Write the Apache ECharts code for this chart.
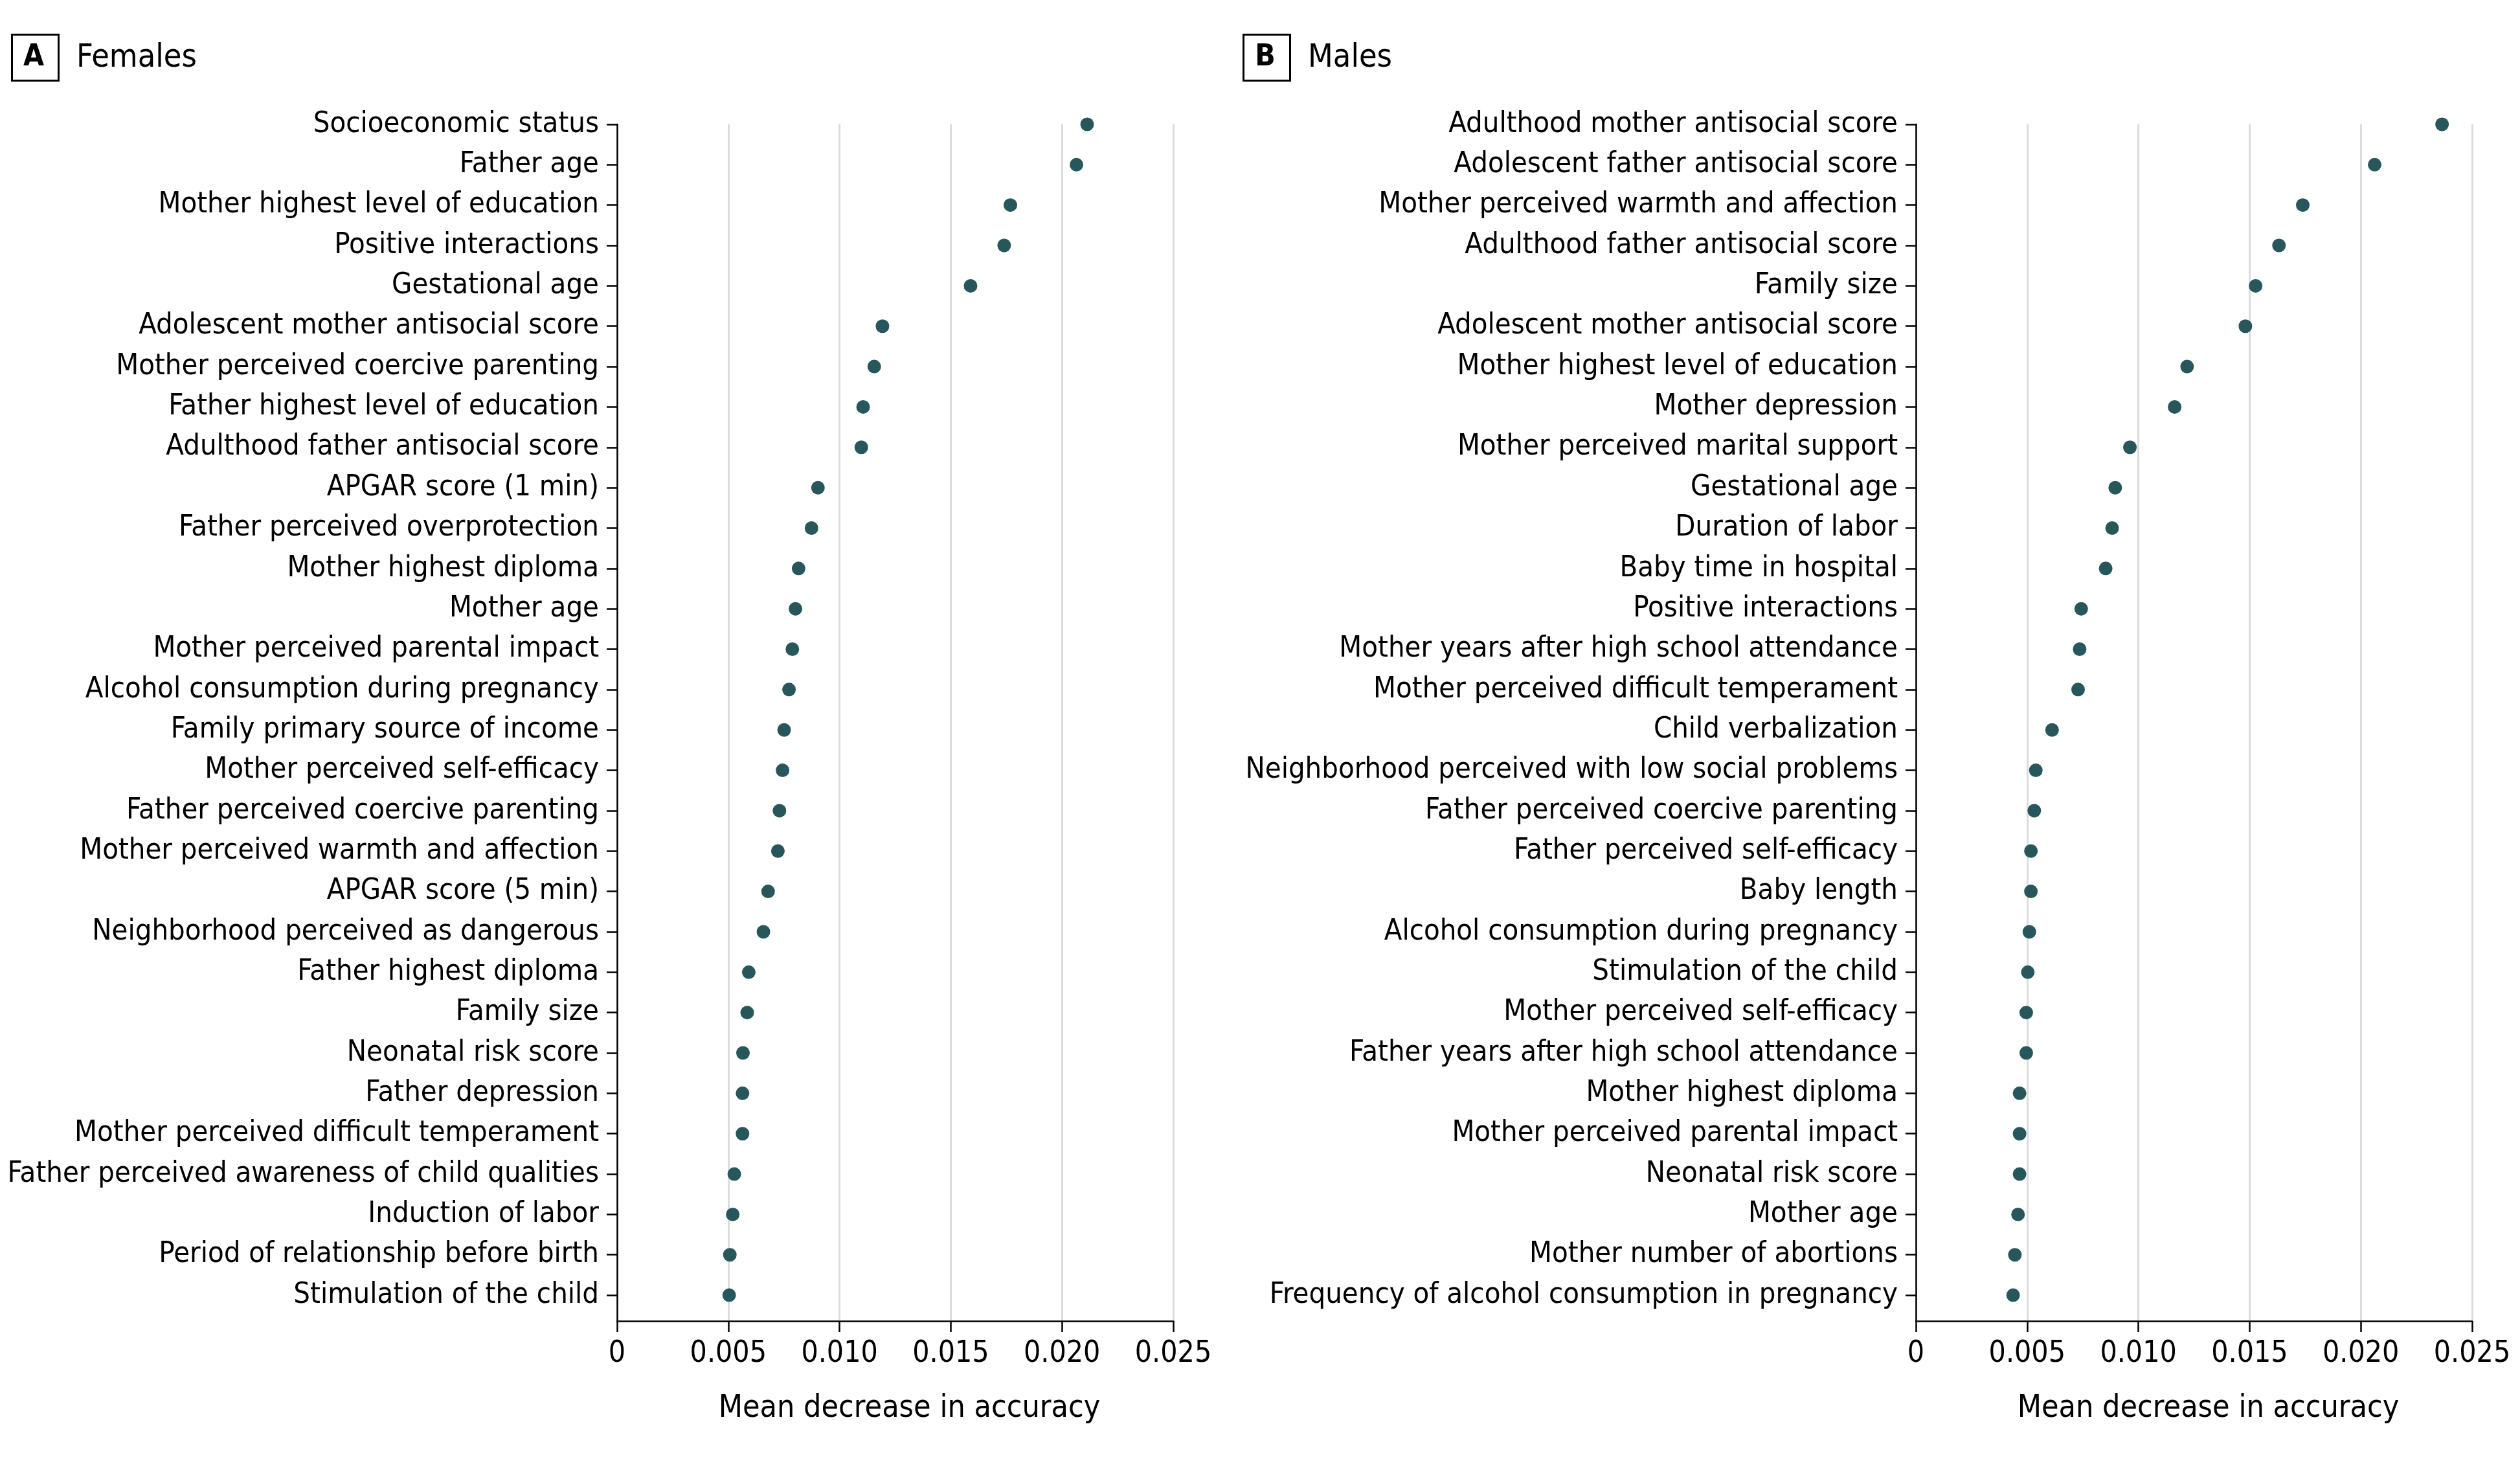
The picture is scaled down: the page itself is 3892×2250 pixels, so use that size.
<!DOCTYPE html>
<html>
<head>
<meta charset="utf-8">
<title>Mean decrease in accuracy</title>
<script src="https://cdn.jsdelivr.net/npm/echarts@6/dist/echarts.min.js"></script>
<style>
  html, body { margin: 0; padding: 0; background: #fff; }
  #main { width: 3892px; height: 2250px; }
</style>
</head>
<body>
<div id="main"></div>
<script>
// females, top to bottom
var femaleNames = [
  'Socioeconomic status', 'Father age', 'Mother highest level of education',
  'Positive interactions', 'Gestational age', 'Adolescent mother antisocial score',
  'Mother perceived coercive parenting', 'Father highest level of education',
  'Adulthood father antisocial score', 'APGAR score (1 min)', 'Father perceived overprotection',
  'Mother highest diploma', 'Mother age', 'Mother perceived parental impact',
  'Alcohol consumption during pregnancy', 'Family primary source of income',
  'Mother perceived self-efficacy', 'Father perceived coercive parenting',
  'Mother perceived warmth and affection', 'APGAR score (5 min)',
  'Neighborhood perceived as dangerous', 'Father highest diploma', 'Family size',
  'Neonatal risk score', 'Father depression', 'Mother perceived difficult temperament',
  'Father perceived awareness of child qualities', 'Induction of labor',
  'Period of relationship before birth', 'Stimulation of the child'
];
var femaleValues = [
  0.02113, 0.02065, 0.01768, 0.01740, 0.01589, 0.01193, 0.01156, 0.01106,
  0.01098, 0.00903, 0.00874, 0.00816, 0.00802, 0.00788, 0.00773, 0.00751,
  0.00744, 0.00730, 0.00723, 0.00679, 0.00658, 0.00592, 0.00585, 0.00566,
  0.00564, 0.00564, 0.00527, 0.00520, 0.00507, 0.00504
];

// males, top to bottom
var maleNames = [
  'Adulthood mother antisocial score', 'Adolescent father antisocial score',
  'Mother perceived warmth and affection', 'Adulthood father antisocial score',
  'Family size', 'Adolescent mother antisocial score', 'Mother highest level of education',
  'Mother depression', 'Mother perceived marital support', 'Gestational age',
  'Duration of labor', 'Baby time in hospital', 'Positive interactions',
  'Mother years after high school attendance', 'Mother perceived difficult temperament',
  'Child verbalization', 'Neighborhood perceived with low social problems',
  'Father perceived coercive parenting', 'Father perceived self-efficacy', 'Baby length',
  'Alcohol consumption during pregnancy', 'Stimulation of the child',
  'Mother perceived self-efficacy', 'Father years after high school attendance',
  'Mother highest diploma', 'Mother perceived parental impact', 'Neonatal risk score',
  'Mother age', 'Mother number of abortions', 'Frequency of alcohol consumption in pregnancy'
];
var maleValues = [
  0.02365, 0.02062, 0.01739, 0.01632, 0.01527, 0.01481, 0.01219, 0.01163,
  0.00962, 0.00896, 0.00882, 0.00853, 0.00743, 0.00736, 0.00729, 0.00612,
  0.00539, 0.00532, 0.00517, 0.00517, 0.00510, 0.00503, 0.00496, 0.00496,
  0.00466, 0.00466, 0.00466, 0.00459, 0.00445, 0.00437
];

var xTicks = [0, 0.005, 0.010, 0.015, 0.020, 0.025];
var xTitle = 'Mean decrease in accuracy';
var panels = [['A', 'Females'], ['B', 'Males']];

var FONT = "'DejaVu Sans Condensed', 'Liberation Sans Narrow', sans-serif";
var DOT = '#27575a';

var chart = echarts.init(document.getElementById('main'));

function rowIdx(n) {
  var a = [];
  for (var i = 0; i < n; i++) a.push(i);
  return a;
}

function yAxisFor(idx, names) {
  return {
    type: 'value',
    gridIndex: idx,
    inverse: true,
    min: 0,
    max: 29.64,
    interval: 1,
    splitLine: { show: false },
    axisLine: { show: true, onZero: false, lineStyle: { color: '#000', width: 2.5 } },
    axisTick: { show: true, length: 16, lineStyle: { color: '#000', width: 2.5 }, customValues: rowIdx(names.length) },
    axisLabel: {
      margin: 28,
      color: '#000',
      fontFamily: FONT,
      fontSize: 45,
      customValues: rowIdx(names.length),
      formatter: function (v) { return names[Math.round(v)] || ''; }
    }
  };
}

function xAxisFor(idx) {
  return {
    type: 'value',
    gridIndex: idx,
    min: xTicks[0],
    max: xTicks[xTicks.length - 1],
    interval: 0.005,
    name: xTitle,
    nameLocation: 'middle',
    nameGap: 112,
    nameTextStyle: { color: '#000', fontFamily: FONT, fontSize: 48, padding: [0, 0, 0, 44] },
    axisLine: { show: true, onZero: false, lineStyle: { color: '#000', width: 2.5 } },
    axisTick: { show: true, length: 17, lineStyle: { color: '#000', width: 2.5 } },
    splitLine: { show: true, lineStyle: { color: '#dcdcdc', width: 3 } },
    axisLabel: {
      margin: 28,
      color: '#000',
      fontFamily: FONT,
      fontSize: 46,
      formatter: function (v) { return v === 0 ? '0' : v.toFixed(3); }
    }
  };
}

function seriesFor(idx, values) {
  return {
    type: 'scatter',
    xAxisIndex: idx,
    yAxisIndex: idx,
    symbol: 'circle',
    symbolSize: 21,
    itemStyle: { color: DOT, opacity: 1 },
    data: values.map(function (v, i) { return [v, i]; })
  };
}

function header(x, letter, label) {
  return [
    { type: 'rect', left: x, top: 51, shape: { width: 72, height: 71 },
      style: { fill: 'none', stroke: '#000', lineWidth: 3 } },
    { type: 'text', x: x + 36, y: 89,
      style: { text: letter, font: 'bold 46px ' + FONT, fill: '#000', align: 'center', verticalAlign: 'middle' } },
    { type: 'text', x: x + 102, y: 90,
      style: { text: label, font: '50px ' + FONT, fill: '#000', align: 'left', verticalAlign: 'middle' } }
  ];
}

var option = {
  backgroundColor: '#fff',
  animation: false,
  grid: [
    { left: 953, top: 192, width: 859, height: 1848, outerBoundsMode: 'none', containLabel: false },
    { left: 2959, top: 192, width: 859, height: 1848, outerBoundsMode: 'none', containLabel: false }
  ],
  xAxis: [xAxisFor(0), xAxisFor(1)],
  yAxis: [yAxisFor(0, femaleNames), yAxisFor(1, maleNames)],
  series: [seriesFor(0, femaleValues), seriesFor(1, maleValues)],
  graphic: header(16, panels[0][0], panels[0][1]).concat(header(1918, panels[1][0], panels[1][1]))
};

chart.setOption(option);
</script>
</body>
</html>
